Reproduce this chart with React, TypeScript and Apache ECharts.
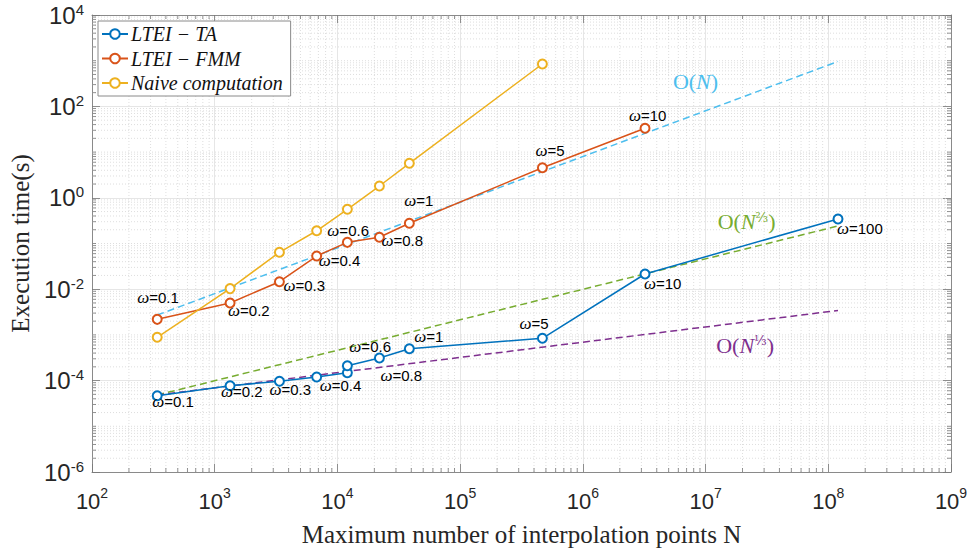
import React, { useEffect, useRef } from 'react';
import * as echarts from 'echarts';

// ---- data ----
const N_TA = [340, 1334, 3367, 6774, 12050, 12050, 21980, 38550, 468000, 3.21e6, 1.2e8];
const T_TA = [4.67e-5, 7.74e-5, 9.66e-5, 1.2e-4, 1.49e-4, 2.12e-4, 3.12e-4, 4.99e-4, 8.43e-4, 0.0215, 0.344];
const W_TA = ['0.1', '0.2', '0.3', '0.4', '', '0.6', '0.8', '1', '5', '10', '100'];

const N_FMM = [340, 1334, 3367, 6774, 12050, 21980, 38550, 468000, 3.21e6];
const T_FMM = [2.19e-3, 4.99e-3, 0.0146, 0.0532, 0.106, 0.137, 0.277, 4.56, 33.2];
const W_FMM = ['0.1', '0.2', '0.3', '0.4', '0.6', '0.8', '1', '5', '10'];

const N_NAIVE = [340, 1334, 3367, 6774, 12050, 21980, 38550, 468000];
const T_NAIVE = [8.86e-4, 0.0103, 0.0642, 0.19, 0.56, 1.81, 5.69, 847];

const REF_N = [340, 1.2e8];
const REF_ON = [2.72e-3, 962];
const REF_O23 = [4.84e-5, 0.242];
const REF_O13 = [4.84e-5, 3.42e-3];

const ANNO_ON = [8.28e6, 347];
const ANNO_O23 = [2.16e7, 0.3];
const ANNO_O13 = [2.1e7, 6.0e-4];

const X_TICK_EXP = [2, 3, 4, 5, 6, 7, 8, 9];
const Y_TICK_EXP = [-6, -4, -2, 0, 2, 4];

const X_MIN = 1e2, X_MAX = 1e9, Y_MIN = 1e-6, Y_MAX = 1e4;

// label offsets (style): [dx to label's left edge, dy to label's middle]
const TA_OFF = [[-4, 7], [-8, 7], [-9, 9], [4, 10], [0, 0], [3, -18], [2, 18], [6, -11], [-22, -14], [0, 10], [0, 11]];
const FMM_OFF = [[-19, -21], [-1, 9], [5, 5], [3, 5], [-19, -11], [3, 4], [-4, -22], [-6, -16], [-15, -12]];

const C_BLUE = '#0072BD', C_ORANGE = '#D95319', C_YELLOW = '#EDB120';
const C_CYAN = '#4DBEEE', C_GREEN = '#77AC30', C_PURPLE = '#7E2F8E';

const SANS = 'Liberation Sans, Arial, Helvetica, sans-serif';
const SERIF = 'Liberation Serif, Times New Roman, serif';

function minorValues(e0: number, e1: number, includeDecades: number[]) {
  const out: number[] = [];
  for (let e = e0; e < e1; e++) {
    for (let k = 2; k <= 9; k++) out.push(k * Math.pow(10, e));
  }
  includeDecades.forEach((e) => out.push(Math.pow(10, e)));
  return out;
}

const labelRich = {
  w: { fontFamily: SERIF, fontStyle: 'italic', fontSize: 17, color: '#000' },
  t: { fontFamily: SANS, fontSize: 15, color: '#000' },
};

function pointData(ns: number[], ts: number[], ws: string[], offs: number[][]) {
  return ns.map((n, i) => {
    const item: any = { value: [n, ts[i]] };
    if (ws[i]) {
      item.label = {
        show: true,
        formatter: `{w|ω}{t|=${ws[i]}}`,
        position: [offs[i][0] + 4.5, offs[i][1] + 4.5],
        align: 'left',
        verticalAlign: 'middle',
        rich: labelRich,
      };
    }
    return item;
  });
}

function tickFmt(list: number[]) {
  return (v: number) => {
    const e = Math.round(Math.log10(v));
    if (list.indexOf(e) < 0) return '';
    return `{b|10}{s|${e}}`;
  };
}

export default function App() {
  const ref = useRef<HTMLDivElement>(null);
  useEffect(() => {
    if (!ref.current) return;
    const chart = echarts.init(ref.current, undefined, { renderer: 'svg' });

    const xMinor = minorValues(2, 9, []);
    const yMinor = minorValues(-6, 4, [-5, -3, -1, 1, 3]);

    const gridLine = { stroke: '#d6d6d6', lineWidth: 0.8, lineDash: [1, 2] };
    const tickStyle = { stroke: '#777', lineWidth: 0.8 };

    const lineSeries = (name: string, color: string, data: any[]) => ({
      name,
      type: 'line',
      data,
      symbol: 'emptyCircle',
      symbolSize: 9,
      showAllSymbol: true,
      lineStyle: { color, width: 1.5 },
      itemStyle: { color, borderColor: color, borderWidth: 1.5 },
      z: 5,
      label: { show: false },
      emphasis: { disabled: true },
    });

    const dashed = (name: string, color: string, ys: number[], anno: number[], text: string) => ({
      name,
      type: 'line',
      data: REF_N.map((n, i) => [n, ys[i]]),
      symbol: 'none',
      lineStyle: { color, width: 1.5, type: [7, 4] },
      z: 4,
      emphasis: { disabled: true },
      markPoint: {
        symbol: 'circle',
        symbolSize: 1,
        itemStyle: { color: 'rgba(0,0,0,0)' },
        silent: true,
        data: [
          {
            coord: anno,
            label: {
              show: true,
              position: 'inside',
              align: 'center',
              verticalAlign: 'middle',
              formatter: text,
              rich: {
                r: { fontFamily: SERIF, fontSize: 22, color },
                i: { fontFamily: SERIF, fontStyle: 'italic', fontSize: 22, color },
                s: { fontFamily: 'DejaVu Serif, serif', fontSize: 13, color, verticalAlign: 'top' },
              },
            },
          },
        ],
      },
    });

    const axisCommon = {
      type: 'log',
      logBase: 10,
      axisLine: { show: true, onZero: false, lineStyle: { color: '#8a8a8a', width: 1 } },
      axisTick: { show: true, inside: true, length: 8, lineStyle: { color: '#777', width: 0.8 } },
      minorTick: { show: false },
      minorSplitLine: { show: false },
    };

    chart.setOption({
      animation: false,
      backgroundColor: '#fff',
      grid: { left: 92, right: 20, top: 15, bottom: 84, containLabel: false, outerBoundsMode: 'none' },
      legend: {
        data: ['LTEI − TA', 'LTEI − FMM', 'Naive computation'],
        orient: 'vertical',
        left: 98,
        top: 21,
        itemWidth: 26,
        itemHeight: 12,
        itemGap: 4.5,
        padding: [3, 8, 3, 3],
        backgroundColor: '#fff',
        borderColor: '#8a8a8a',
        borderWidth: 1,
        borderRadius: 0,
        textStyle: { fontFamily: SERIF, fontStyle: 'italic', fontSize: 20, color: '#111', padding: [0, 0, 0, -2] },
        selectedMode: false,
      },
      xAxis: [
        {
          ...axisCommon,
          min: X_MIN,
          max: X_MAX,
          interval: 1,
          position: 'bottom',
          name: 'Maximum number of interpolation points N',
          nameLocation: 'middle',
          nameGap: 50,
          nameTextStyle: { fontFamily: SERIF, fontSize: 25, color: '#262626' },
          axisLabel: {
            margin: 14,
            formatter: tickFmt(X_TICK_EXP),
            rich: {
              b: { fontFamily: SANS, fontSize: 22, color: '#262626', lineHeight: 30 },
              s: { fontFamily: SANS, fontSize: 14, color: '#262626', verticalAlign: 'top', lineHeight: 30 },
            },
          },
          splitLine: { show: true, lineStyle: { color: '#e6e6e6', width: 1 } },
        },
        {
          ...axisCommon,
          min: X_MIN,
          max: X_MAX,
          interval: 1,
          position: 'top',
          axisLabel: { show: false },
          splitLine: { show: false },
        },
      ],
      yAxis: [
        {
          ...axisCommon,
          min: Y_MIN,
          max: Y_MAX,
          interval: 2,
          position: 'left',
          name: 'Execution time(s)',
          nameLocation: 'middle',
          nameGap: 52,
          nameTextStyle: { fontFamily: SERIF, fontSize: 25, color: '#262626' },
          axisLabel: {
            margin: 8,
            formatter: tickFmt(Y_TICK_EXP),
            rich: {
              b: { fontFamily: SANS, fontSize: 24, color: '#262626', lineHeight: 27 },
              s: { fontFamily: SANS, fontSize: 15, color: '#262626', verticalAlign: 'top', lineHeight: 27 },
            },
          },
          splitLine: { show: true, lineStyle: { color: '#e6e6e6', width: 1 } },
        },
        {
          ...axisCommon,
          min: Y_MIN,
          max: Y_MAX,
          interval: 2,
          position: 'right',
          axisLabel: { show: false },
          splitLine: { show: false },
        },
      ],
      series: [
        {
          name: 'xminor',
          type: 'custom',
          silent: true,
          z: 1,
          data: xMinor.map((v) => [v, 1]),
          encode: { x: 0, y: 1 },
          renderItem: (_p: any, api: any) => {
            const v = api.value(0);
            const b = api.coord([v, Y_MIN]);
            const t = api.coord([v, Y_MAX]);
            return {
              type: 'group',
              children: [
                { type: 'line', shape: { x1: b[0], y1: b[1], x2: t[0], y2: t[1] }, style: gridLine },
                { type: 'line', shape: { x1: b[0], y1: b[1], x2: b[0], y2: b[1] - 4 }, style: tickStyle },
                { type: 'line', shape: { x1: t[0], y1: t[1], x2: t[0], y2: t[1] + 4 }, style: tickStyle },
              ],
            };
          },
        },
        {
          name: 'yminor',
          type: 'custom',
          silent: true,
          z: 1,
          data: yMinor.map((v) => [1000, v]),
          encode: { x: 0, y: 1 },
          renderItem: (_p: any, api: any) => {
            const v = api.value(1);
            const l = api.coord([X_MIN, v]);
            const r = api.coord([X_MAX, v]);
            return {
              type: 'group',
              children: [
                { type: 'line', shape: { x1: l[0], y1: l[1], x2: r[0], y2: r[1] }, style: gridLine },
                { type: 'line', shape: { x1: l[0], y1: l[1], x2: l[0] + 4, y2: l[1] }, style: tickStyle },
                { type: 'line', shape: { x1: r[0], y1: r[1], x2: r[0] - 4, y2: r[1] }, style: tickStyle },
              ],
            };
          },
        },
        lineSeries('LTEI − TA', C_BLUE, pointData(N_TA, T_TA, W_TA, TA_OFF)),
        lineSeries('LTEI − FMM', C_ORANGE, pointData(N_FMM, T_FMM, W_FMM, FMM_OFF)),
        lineSeries('Naive computation', C_YELLOW, N_NAIVE.map((n, i) => [n, T_NAIVE[i]])),
        dashed('O(N)', C_CYAN, REF_ON, ANNO_ON, '{r|O(}{i|N}{r|)}'),
        dashed('O(N^2/3)', C_GREEN, REF_O23, ANNO_O23, '{r|O(}{i|N}{s|⅔}{r|)}'),
        dashed('O(N^1/3)', C_PURPLE, REF_O13, ANNO_O13, '{r|O(}{i|N}{s|⅓}{r|)}'),
      ],
    });

    return () => chart.dispose();
  }, []);

  return (
    <div
      ref={ref}
      style={{ position: 'fixed', left: 0, top: 0, width: 971, height: 556, background: '#fff' }}
    />
  );
}
